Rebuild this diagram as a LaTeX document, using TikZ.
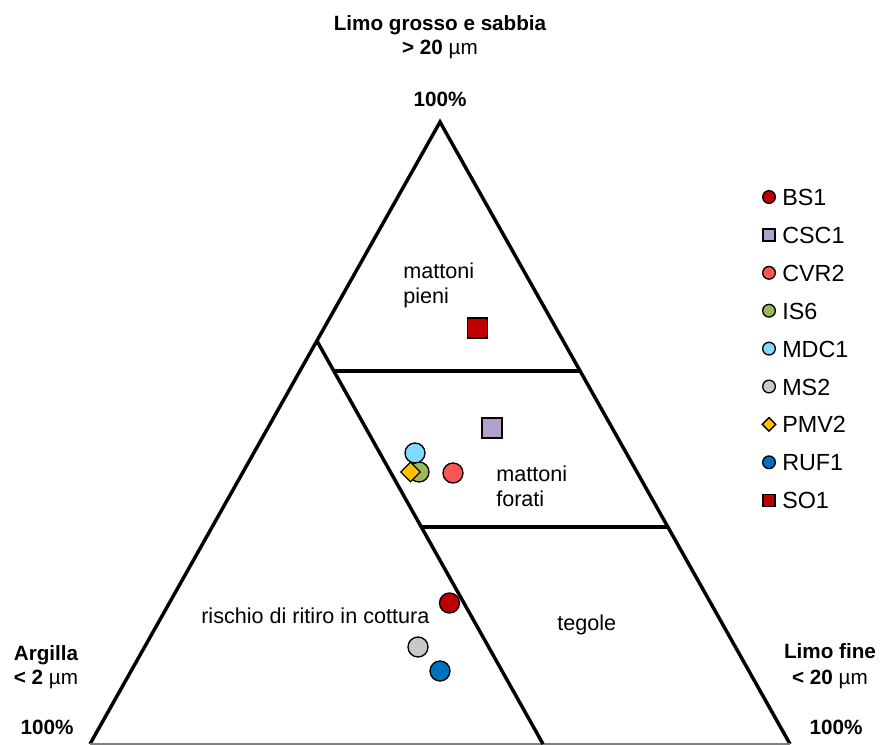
\documentclass[tikz,border=0pt]{standalone}
\usepackage{fontspec}
\setmainfont{Liberation Sans}
\usetikzlibrary{positioning,shapes.geometric}

\definecolor{bsred}{HTML}{C00000}
\definecolor{cscviolet}{HTML}{B1A0C7}
\definecolor{cvrred}{HTML}{FF5555}
\definecolor{isgreen}{HTML}{9BBB59}
\definecolor{mdcblue}{HTML}{7FDBFF}
\definecolor{msgrey}{HTML}{C8C8C8}
\definecolor{pmvgold}{HTML}{FFC000}
\definecolor{rufblue}{HTML}{0070C0}

\tikzset{
  edgeline/.style={line width=2.6pt},
  axislab/.style={font=\fontsize{15.5}{18}\selectfont, anchor=base},
  zonelab/.style={font=\fontsize{16.2}{19}\selectfont, anchor=base west, inner sep=0pt},
  leglab/.style={font=\fontsize{17.5}{20}\selectfont, anchor=base west, inner sep=0pt},
  dot/.style={circle, draw, line width=1pt, inner sep=0pt, minimum size=15pt},
  box/.style={rectangle, draw, line width=1pt, inner sep=0pt, minimum size=15pt},
  rhomb/.style={diamond, draw, line width=1pt, inner sep=0pt, minimum size=15pt},
  legdot/.style={dot, minimum size=9.5pt},
  legbox/.style={box, minimum size=9pt},
  legrhomb/.style={rhomb, minimum size=10.5pt}
}

\begin{document}
\begin{tikzpicture}[x=0.75pt,y=-0.75pt]
\useasboundingbox (0,0) rectangle (881,745);

% vertices and zone borders
\coordinate (top) at (440,122);
\coordinate (left) at (90,744);
\coordinate (right) at (790,744);
\coordinate (j1) at (317,341);
\coordinate (j2) at (543,744);
\coordinate (h1a) at (333.8,371);
\coordinate (h1b) at (580.1,371);
\coordinate (h2a) at (421.3,527);
\coordinate (h2b) at (667.9,527);

\draw[edgeline] (left) -- (top) -- (right);
\draw[gray, line width=1.2pt] (left) -- (right);
\draw[edgeline] (j1) -- (j2);
\draw[edgeline] (h1a) -- (h1b);
\draw[edgeline] (h2a) -- (h2b);

% axis labels
\node[axislab] (ttl1) at (440,31) {\bfseries Limo grosso e sabbia};
\node[axislab] (ttl2) at (440,55) {\textbf{> 20} µm};
\node[axislab] (ttl3) at (440,107) {\bfseries 100\%};
\node[axislab] (arg1) at (46,660) {\bfseries Argilla};
\node[axislab] (arg2) at (46,684) {\textbf{< 2} µm};
\node[axislab] (arg3) at (47,734) {\bfseries 100\%};
\node[axislab] (lf1) at (830,658) {\bfseries Limo fine};
\node[axislab] (lf2) at (830,684) {\textbf{< 20} µm};
\node[axislab] (lf3) at (836,734) {\bfseries 100\%};

% zones
\node[zonelab] (pieni1) at (403,278) {mattoni};
\node[zonelab] (pieni2) at (403,303) {pieni};
\node[zonelab] (forati1) at (496,481) {mattoni};
\node[zonelab] (forati2) at (496,506) {forati};
\node[zonelab] (tegole) at (557,630) {tegole};
\node[zonelab] (rischio) at (201,623) {rischio di ritiro in cottura};

% samples
\node[dot, fill=bsred] (bs1) at (449.5,603) {};
\node[box, fill=cscviolet] (csc1) at (492,428) {};
\node[dot, fill=cvrred] (cvr2) at (453,473) {};
\node[dot, fill=isgreen] (is6) at (419,472) {};
\node[dot, fill=mdcblue] (mdc1) at (415,453) {};
\node[dot, fill=msgrey] (ms2) at (418,647) {};
\node[rhomb, fill=pmvgold] (pmv2) at (410.5,472) {};
\node[dot, fill=rufblue] (ruf1) at (440,671) {};
\node[box, fill=bsred] (so1) at (477.5,328) {};

% legend
\foreach \nm/\shp/\col [count=\i from 0] in {BS1/legdot/bsred, CSC1/legbox/cscviolet,
    CVR2/legdot/cvrred, IS6/legdot/isgreen, MDC1/legdot/mdcblue, MS2/legdot/msgrey,
    PMV2/legrhomb/pmvgold, RUF1/legdot/rufblue, SO1/legbox/bsred}{
  \node[\shp, fill=\col] (key\i) at (769,197+37.9*\i) {};
  \node[leglab] (keytxt\i) at (782,205.5+37.9*\i) {\nm};
}
\end{tikzpicture}
\end{document}
